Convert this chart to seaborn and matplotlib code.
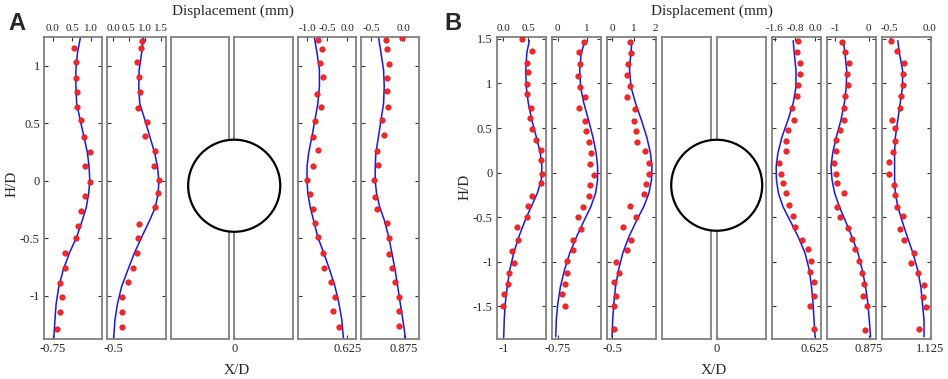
import matplotlib.pyplot as plt
from matplotlib.patches import Ellipse
import seaborn as sns

# -----------------------------
# Data: displacement (mm) vs H/D for each X/D station
# *_h / *_d = measured points, *_fit = blue curve
# -----------------------------
A_H_FIT = [1.25, 1.11, 0.96, 0.82, 0.67, 0.53, 0.38, 0.24, 0.12, 0.0,
           -0.11, -0.23, -0.34, -0.49, -0.63, -0.78, -0.92, -1.07, -1.21, -1.37]
B_H_FIT = [1.48, 1.34, 1.15, 0.96, 0.78, 0.59, 0.40, 0.22, 0.07, -0.08,
           -0.23, -0.38, -0.53, -0.72, -0.90, -1.09, -1.28, -1.47, -1.65, -1.84]

# Panel A
a1_h = [1.15, 1.03, 0.89, 0.77, 0.64, 0.53, 0.38, 0.25, 0.13, -0.01,
        -0.13, -0.26, -0.39, -0.50, -0.63, -0.76, -0.89, -1.01, -1.14, -1.29]
a1_d = [0.56, 0.60, 0.61, 0.62, 0.62, 0.73, 0.81, 0.96, 0.83, 0.97,
        0.83, 0.74, 0.65, 0.60, 0.33, 0.33, 0.20, 0.24, 0.18, 0.11]
a1_fit = [0.72, 0.64, 0.60, 0.60, 0.62, 0.71, 0.81, 0.90, 0.94, 0.96,
          0.93, 0.87, 0.77, 0.62, 0.43, 0.27, 0.16, 0.09, 0.06, 0.03]

a2_h = [1.21, 1.15, 1.03, 0.90, 0.77, 0.63, 0.51, 0.39, 0.26, 0.13, 0.01,
        -0.11, -0.23, -0.38, -0.50, -0.63, -0.76, -0.88, -1.01, -1.14, -1.27]
a2_d = [0.92, 0.88, 0.75, 0.82, 0.84, 0.79, 1.06, 1.00, 1.32, 1.28, 1.44,
        1.40, 1.31, 0.82, 0.79, 0.76, 0.62, 0.47, 0.28, 0.27, 0.28]
a2_fit = [0.96, 0.90, 0.82, 0.81, 0.84, 1.00, 1.16, 1.31, 1.40, 1.44,
          1.42, 1.33, 1.16, 0.90, 0.67, 0.46, 0.27, 0.14, 0.06, 0.02]

a4_h = [1.22, 1.14, 1.02, 0.90, 0.75, 0.64, 0.52, 0.38, 0.27, 0.13, 0.01,
        -0.12, -0.25, -0.37, -0.49, -0.63, -0.76, -0.88, -1.01, -1.13, -1.27]
a4_d = [-0.73, -0.64, -0.68, -0.62, -0.77, -0.67, -0.81, -0.86, -0.73, -0.85, -1.00,
        -0.93, -0.85, -0.81, -0.73, -0.62, -0.59, -0.42, -0.30, -0.36, -0.22]
a4_fit = [-0.83, -0.76, -0.70, -0.70, -0.74, -0.81, -0.89, -0.97, -1.01, -1.01,
          -0.99, -0.93, -0.85, -0.74, -0.59, -0.44, -0.31, -0.21, -0.14, -0.10]

a5_h = [1.24, 1.22, 1.14, 1.01, 0.89, 0.78, 0.64, 0.53, 0.40, 0.26, 0.14,
        0.01, -0.14, -0.25, -0.37, -0.50, -0.64, -0.76, -0.88, -1.01, -1.13, -1.26]
a5_d = [-0.02, -0.28, -0.26, -0.22, -0.26, -0.26, -0.24, -0.33, -0.30, -0.41, -0.39,
        -0.46, -0.44, -0.41, -0.26, -0.23, -0.22, -0.18, -0.14, -0.07, -0.07, -0.07]
a5_fit = [-0.39, -0.35, -0.31, -0.30, -0.31, -0.35, -0.39, -0.43, -0.44, -0.44,
          -0.42, -0.37, -0.30, -0.23, -0.18, -0.13, -0.09, -0.05, -0.01, 0.03]

# Panel B
b1_h = [1.50, 1.36, 1.23, 1.13, 0.99, 0.88, 0.73, 0.61, 0.49, 0.37, 0.25, 0.14, -0.01,
        -0.12, -0.26, -0.37, -0.50, -0.61, -0.75, -0.88, -1.01, -1.13, -1.25, -1.36, -1.50]
b1_d = [0.37, 0.57, 0.47, 0.50, 0.47, 0.48, 0.55, 0.54, 0.58, 0.65, 0.75, 0.75, 0.77,
        0.76, 0.57, 0.49, 0.48, 0.27, 0.29, 0.17, 0.21, 0.12, 0.10, 0.01, 0.00]
b1_fit = [0.52, 0.47, 0.45, 0.46, 0.50, 0.57, 0.66, 0.74, 0.77, 0.76,
          0.68, 0.56, 0.44, 0.31, 0.21, 0.13, 0.08, 0.04, 0.02, 0.01]

b2_h = [1.46, 1.35, 1.22, 1.08, 0.96, 0.85, 0.73, 0.58, 0.47, 0.34, 0.22, 0.10, -0.03,
        -0.14, -0.26, -0.39, -0.50, -0.63, -0.75, -0.87, -0.99, -1.12, -1.25, -1.36, -1.50]
b2_d = [0.91, 0.74, 0.75, 0.68, 0.77, 0.92, 0.72, 0.94, 0.97, 1.05, 1.14, 1.09, 1.23,
        1.10, 1.05, 0.85, 0.68, 0.80, 0.53, 0.52, 0.30, 0.31, 0.24, 0.16, 0.24]
b2_fit = [0.93, 0.80, 0.75, 0.78, 0.89, 1.05, 1.20, 1.31, 1.36, 1.36,
          1.29, 1.13, 0.91, 0.64, 0.41, 0.23, 0.09, 0.00, -0.05, -0.07]

b3_h = [1.47, 1.34, 1.22, 1.10, 0.97, 0.85, 0.71, 0.58, 0.47, 0.34, 0.24, 0.11, -0.01,
        -0.13, -0.24, -0.37, -0.50, -0.61, -0.76, -0.87, -1.00, -1.12, -1.23, -1.38, -1.50, -1.75]
b3_d = [0.85, 0.88, 0.76, 0.68, 0.85, 0.70, 1.07, 1.01, 1.13, 1.15, 1.52, 1.71, 1.71,
        1.57, 1.50, 0.84, 1.13, 0.51, 0.90, 0.70, 0.16, 0.34, 0.09, 0.19, 0.11, 0.08]
b3_fit = [0.93, 0.87, 0.81, 0.88, 1.09, 1.36, 1.61, 1.78, 1.85, 1.83,
          1.71, 1.47, 1.15, 0.78, 0.50, 0.30, 0.16, 0.08, 0.03, 0.00]

b6_h = [1.48, 1.35, 1.23, 1.11, 0.98, 0.86, 0.72, 0.59, 0.48, 0.35, 0.24, 0.11, -0.01,
        -0.12, -0.23, -0.36, -0.49, -0.61, -0.75, -0.86, -0.99, -1.11, -1.23, -1.38, -1.50, -1.75]
b6_d = [-0.67, -0.71, -0.61, -0.60, -0.69, -0.72, -0.90, -0.83, -1.08, -1.17, -1.16, -1.44, -1.35,
        -1.27, -1.16, -1.05, -0.87, -0.80, -0.52, -0.30, -0.16, -0.19, -0.05, -0.03, -0.19, -0.03]
b6_fit = [-0.87, -0.83, -0.76, -0.76, -0.87, -1.08, -1.32, -1.48, -1.55, -1.54,
          -1.46, -1.28, -1.01, -0.67, -0.40, -0.23, -0.14, -0.08, -0.04, 0.00]

b7_h = [1.47, 1.35, 1.23, 1.11, 0.98, 0.86, 0.72, 0.59, 0.48, 0.37, 0.24, 0.11, -0.01,
        -0.12, -0.23, -0.38, -0.50, -0.62, -0.74, -0.86, -0.99, -1.13, -1.25, -1.38, -1.50, -1.76]
b7_d = [-0.80, -0.71, -0.60, -0.66, -0.62, -0.72, -0.73, -0.74, -0.87, -0.97, -0.97, -1.03, -0.97,
        -0.94, -0.75, -0.94, -0.87, -0.63, -0.49, -0.40, -0.29, -0.19, -0.15, -0.17, -0.05, -0.12]
b7_fit = [-0.76, -0.71, -0.66, -0.67, -0.73, -0.83, -0.97, -1.08, -1.13, -1.10,
          -1.02, -0.88, -0.71, -0.50, -0.32, -0.19, -0.09, -0.02, 0.02, 0.06]

b8_h = [1.48, 1.36, 1.23, 1.11, 0.98, 0.86, 0.72, 0.59, 0.50, 0.36, 0.23, 0.12, -0.02,
        -0.14, -0.25, -0.38, -0.49, -0.63, -0.76, -0.90, -1.01, -1.13, -1.26, -1.39, -1.51, -1.75]
b8_d = [-0.49, -0.41, -0.32, -0.33, -0.33, -0.36, -0.37, -0.47, -0.43, -0.43, -0.46, -0.51, -0.51,
        -0.45, -0.43, -0.41, -0.33, -0.37, -0.32, -0.19, -0.23, -0.14, -0.07, -0.08, -0.05, -0.13]
b8_fit = [-0.40, -0.38, -0.34, -0.34, -0.37, -0.40, -0.43, -0.44, -0.44, -0.44,
          -0.43, -0.40, -0.35, -0.28, -0.21, -0.15, -0.11, -0.09, -0.07, -0.07]

# axis ticks / labels
A_YTICKS = [-1, -0.5, 0, 0.5, 1]
A_YLABELS = ["-1", "-0.5", "0", "0.5", "1"]
B_YTICKS = [-1.5, -1, -0.5, 0, 0.5, 1, 1.5]
B_YLABELS = ["-1.5", "-1", "-0.5", "0", "0.5", "1", "1.5"]

# tunnel (circle) position in H/D units
A_TUNNEL_H, A_TUNNEL_R = -0.044, 0.40
B_TUNNEL_H, B_TUNNEL_R = -0.141, 0.51

# -----------------------------
# Style
# -----------------------------
sns.set_style("ticks")
plt.rcParams["font.family"] = ["Liberation Serif", "DejaVu Serif"]

FIG_W, FIG_H = 948, 379
TOP_PX, BOT_PX = 37, 338.5
SPINE = "#808080"
BLUE = "#1414ff"
RED = "#ff2222"

fig = plt.figure(figsize=(FIG_W / 100, FIG_H / 100), dpi=100)


def add_box(left_px, width_px):
    ax = fig.add_axes([left_px / FIG_W, 1 - BOT_PX / FIG_H,
                       width_px / FIG_W, (BOT_PX - TOP_PX) / FIG_H])
    for s in ax.spines.values():
        s.set_color(SPINE)
        s.set_linewidth(1.3)
    return ax


def draw_profile(ax, h, d, h_fit, d_fit, xlim, ylim, xticks, xlabels, xd,
                 yticks, ylabels, first):
    sns.lineplot(x=d_fit, y=h_fit, sort=False, estimator=None, color=BLUE,
                 lw=1.1, ax=ax)
    sns.scatterplot(x=d, y=h, color=RED, s=16, edgecolor="#c80000",
                    linewidth=0.3, ax=ax, zorder=3)
    ax.set_xlim(xlim)
    ax.set_ylim(ylim)
    ax.set_xlabel("")
    ax.set_ylabel("")
    ax.xaxis.tick_top()
    ax.set_xticks(xticks, xlabels)
    ax.tick_params(axis="x", direction="in", length=3, width=0.8, pad=3,
                   color="#333333", labelsize=8)
    ax.set_yticks(yticks, ylabels)
    ax.tick_params(axis="y", direction="in", left=True, right=True, length=3,
                   width=0.8, color="#333333", labelleft=first, labelsize=9, pad=3)
    sec = ax.secondary_xaxis("bottom")
    sec.set_xticks([0], [xd])
    sec.tick_params(direction="in", length=3, width=0.8, color="#333333",
                    labelsize=9, pad=3)
    sec.spines["bottom"].set_visible(False)


def draw_gap(ax_l, ax_r, ylim, tunnel_h, tunnel_r):
    for ax in (ax_l, ax_r):
        ax.set_xlim(0, 1)
        ax.set_ylim(ylim)
        ax.set_yticks([])
    ax_l.set_xticks([])
    ax_r.set_xticks([0], ["0"])
    ax_r.tick_params(axis="x", direction="in", length=3, width=0.8,
                     color="#333333", labelsize=9, pad=3)
    pos = ax_r.get_position()
    w_px = pos.width * FIG_W
    px_per_h = pos.height * FIG_H / (ylim[1] - ylim[0])
    r_px = tunnel_r * px_per_h
    ax_r.add_patch(Ellipse((0, tunnel_h), 2 * r_px / w_px, 2 * tunnel_r,
                           facecolor="white", edgecolor="black", lw=1.6,
                           clip_on=False, zorder=10))


# -----------------------------
# Panel A
# -----------------------------
A_YLIM = (-1.371, 1.248)
A_LEFT, A_W, A_STEP = 44, 58.3, 63.4
a_axes = [add_box(A_LEFT + i * A_STEP, A_W) for i in range(6)]

draw_profile(a_axes[0], a1_h, a1_d, A_H_FIT, a1_fit, (-0.223, 1.282), A_YLIM,
             [0, 0.5, 1.0], ["0.0", "0.5", "1.0"], "-0.75", A_YTICKS, A_YLABELS, True)
draw_profile(a_axes[1], a2_h, a2_d, A_H_FIT, a2_fit, (-0.177, 1.656), A_YLIM,
             [0, 0.5, 1.0, 1.5], ["0.0", "0.5", "1.0", "1.5"], "-0.5", A_YTICKS, A_YLABELS, False)
draw_gap(a_axes[2], a_axes[3], A_YLIM, A_TUNNEL_H, A_TUNNEL_R)
draw_profile(a_axes[4], a4_h, a4_d, A_H_FIT, a4_fit, (-1.246, 0.212), A_YLIM,
             [-1.0, -0.5, 0], ["-1.0", "-0.5", "0.0"], "0.625", A_YTICKS, A_YLABELS, False)
draw_profile(a_axes[5], a5_h, a5_d, A_H_FIT, a5_fit, (-0.661, 0.245), A_YLIM,
             [-0.5, 0], ["-0.5", "0.0"], "0.875", A_YTICKS, A_YLABELS, False)

# -----------------------------
# Panel B
# -----------------------------
B_YLIM = (-1.859, 1.521)
B_LEFT, B_W, B_STEP = 496.7, 49.5, 55
b_axes = [add_box(B_LEFT + i * B_STEP, B_W) for i in range(8)]

draw_profile(b_axes[0], b1_h, b1_d, B_H_FIT, b1_fit, (-0.13, 0.857), B_YLIM,
             [0, 0.5], ["0.0", "0.5"], "-1", B_YTICKS, B_YLABELS, True)
draw_profile(b_axes[1], b2_h, b2_d, B_H_FIT, b2_fit, (-0.207, 1.483), B_YLIM,
             [0, 1], ["0", "1"], "-0.75", B_YTICKS, B_YLABELS, False)
draw_profile(b_axes[2], b3_h, b3_d, B_H_FIT, b3_fit, (-0.248, 2.047), B_YLIM,
             [0, 1, 2], ["0", "1", "2"], "-0.5", B_YTICKS, B_YLABELS, False)
draw_gap(b_axes[3], b_axes[4], B_YLIM, B_TUNNEL_H, B_TUNNEL_R)
draw_profile(b_axes[5], b6_h, b6_d, B_H_FIT, b6_fit, (-1.728, 0.245), B_YLIM,
             [-1.6, -0.8, 0], ["-1.6", "-0.8", "0.0"], "0.625", B_YTICKS, B_YLABELS, False)
draw_profile(b_axes[6], b7_h, b7_d, B_H_FIT, b7_fit, (-1.26, 0.229), B_YLIM,
             [-1, 0], ["-1", "0"], "0.875", B_YTICKS, B_YLABELS, False)
draw_profile(b_axes[7], b8_h, b8_d, B_H_FIT, b8_fit, (-0.602, 0.02), B_YLIM,
             [-0.5, 0], ["-0.5", "0.0"], "1.125", B_YTICKS, B_YLABELS, False)

# -----------------------------
# Figure-level labels
# -----------------------------
def ftext(x_px, y_px, s, **kw):
    fig.text(x_px / FIG_W, 1 - y_px / FIG_H, s, ha="center", va="center", **kw)

ftext(233, 11, "Displacement (mm)", fontsize=11)
ftext(712, 11, "Displacement (mm)", fontsize=11)
ftext(237, 370, "X/D", fontsize=11)
ftext(714, 370, "X/D", fontsize=11)
ftext(12, 184, "H/D", fontsize=11, rotation=90)
ftext(465, 187, "H/D", fontsize=11, rotation=90)
ftext(17, 23, "A", fontsize=17, fontweight="bold", family="Liberation Sans")
ftext(453, 24, "B", fontsize=17, fontweight="bold", family="Liberation Sans")

fig.savefig("out.png", dpi=100)
